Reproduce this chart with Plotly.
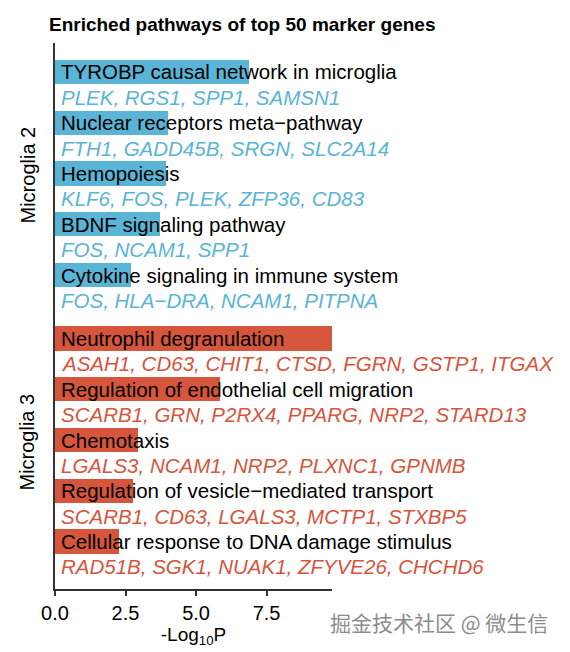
import plotly.graph_objects as go

groups = ["Microglia 2", "Microglia 3"]
pathways_m2 = [
    "TYROBP causal network in microglia",
    "Nuclear receptors meta\u2212pathway",
    "Hemopoiesis",
    "BDNF signaling pathway",
    "Cytokine signaling in immune system",
]
genes_m2 = [
    "PLEK, RGS1, SPP1, SAMSN1",
    "FTH1, GADD45B, SRGN, SLC2A14",
    "KLF6, FOS, PLEK, ZFP36, CD83",
    "FOS, NCAM1, SPP1",
    "FOS, HLA\u2212DRA, NCAM1, PITPNA",
]
values_m2 = [6.88, 4.02, 3.95, 3.72, 2.70]

pathways_m3 = [
    "Neutrophil degranulation",
    "Regulation of endothelial cell migration",
    "Chemotaxis",
    "Regulation of vesicle\u2212mediated transport",
    "Cellular response to DNA damage stimulus",
]
genes_m3 = [
    "ASAH1, CD63, CHIT1, CTSD, FGRN, GSTP1, ITGAX",
    "SCARB1, GRN, P2RX4, PPARG, NRP2, STARD13",
    "LGALS3, NCAM1, NRP2, PLXNC1, GPNMB",
    "SCARB1, CD63, LGALS3, MCTP1, STXBP5",
    "RAD51B, SGK1, NUAK1, ZFYVE26, CHCHD6",
]
values_m3 = [9.82, 5.85, 2.94, 2.77, 2.27]

x_ticks = [0.0, 2.5, 5.0, 7.5]
x_tick_labels = ["0.0", "2.5", "5.0", "7.5"]

colors = ["#5AB4D5", "#D6553D"]
FONT = "Liberation Sans, Arial, sans-serif"

GROUP_STEP = 10.5  # row units between group starts (includes gap)

# page body has an 8px margin; compensate so the figure lands at the target pixels
OFF = 8
W, H = 570 - OFF, 652 - OFF
ML, MR, MT, MB = 55 - OFF, 238, 43 - OFF, 63
plot_w = W - ML - MR
plot_h = H - MT - MB

fig = go.Figure()
annotations = []
group_data = [(pathways_m2, genes_m2, values_m2), (pathways_m3, genes_m3, values_m3)]
for g, (pw, gn, vals) in enumerate(group_data):
    ys = [g * GROUP_STEP + 2 * k for k in range(len(pw))]
    fig.add_trace(go.Bar(
        x=vals, y=ys, orientation="h", width=0.95,
        marker=dict(color=colors[g], line=dict(width=0)),
        hoverinfo="skip", showlegend=False,
    ))
    for k in range(len(pw)):
        annotations.append(dict(
            x=0, y=ys[k], xref="x", yref="y", text=pw[k], showarrow=False,
            xanchor="left", yanchor="middle", xshift=4,
            font=dict(family=FONT, size=20.5, color="black"),
        ))
        annotations.append(dict(
            x=0, y=ys[k] + 1, xref="x", yref="y", text="<i>" + gn[k] + "</i>",
            showarrow=False, xanchor="left", yanchor="middle", xshift=4,
            font=dict(family=FONT, size=20.5, color=colors[g]),
        ))

# group labels
label_y = [4.06, 14.58]
for g in range(2):
    annotations.append(dict(
        x=-27.5 / plot_w, y=label_y[g], xref="paper", yref="y", text=groups[g],
        showarrow=False, textangle=-90, xanchor="center", yanchor="middle",
        font=dict(family=FONT, size=20, color="black"),
    ))

# watermark (pixel position converted to paper coords)
annotations.append(dict(
    x=(550 - OFF - ML) / plot_w, y=(H - MB - (622 - OFF)) / plot_h,
    xref="paper", yref="paper",
    text="掘金技术社区 @ 微生信", showarrow=False, xanchor="right", yanchor="middle",
    font=dict(family="Noto Sans CJK SC", size=21, color="#8c8c8c"),
))

fig.update_layout(
    width=W, height=H,
    margin=dict(l=ML, r=MR, t=MT, b=MB, autoexpand=False),
    paper_bgcolor="white", plot_bgcolor="white",
    title=dict(
        text="<b>Enriched pathways of top 50 marker genes</b>",
        x=(49 - OFF) / W, xanchor="left", xref="container",
        y=1 - (24 - OFF) / H, yanchor="middle", yref="container",
        font=dict(family=FONT, size=19, color="black"),
    ),
    xaxis=dict(
        range=[0, 9.82], tickvals=x_ticks, ticktext=x_tick_labels,
        showgrid=False, zeroline=False, showline=True, linecolor="#333333",
        linewidth=1.5, ticks="outside", ticklen=5, tickwidth=1.5, tickcolor="#333333",
        tickfont=dict(family=FONT, size=20, color="black"),
        title=dict(text="-Log<sub>10</sub>P", standoff=2,
                   font=dict(family=FONT, size=19, color="black")),
    ),
    yaxis=dict(
        range=[20.37, -1.14], showticklabels=False, showgrid=False, zeroline=False,
        showline=True, linecolor="#333333", linewidth=1.5, ticks="",
    ),
    bargap=0,
    annotations=annotations,
)

fig.write_html("out.html")
